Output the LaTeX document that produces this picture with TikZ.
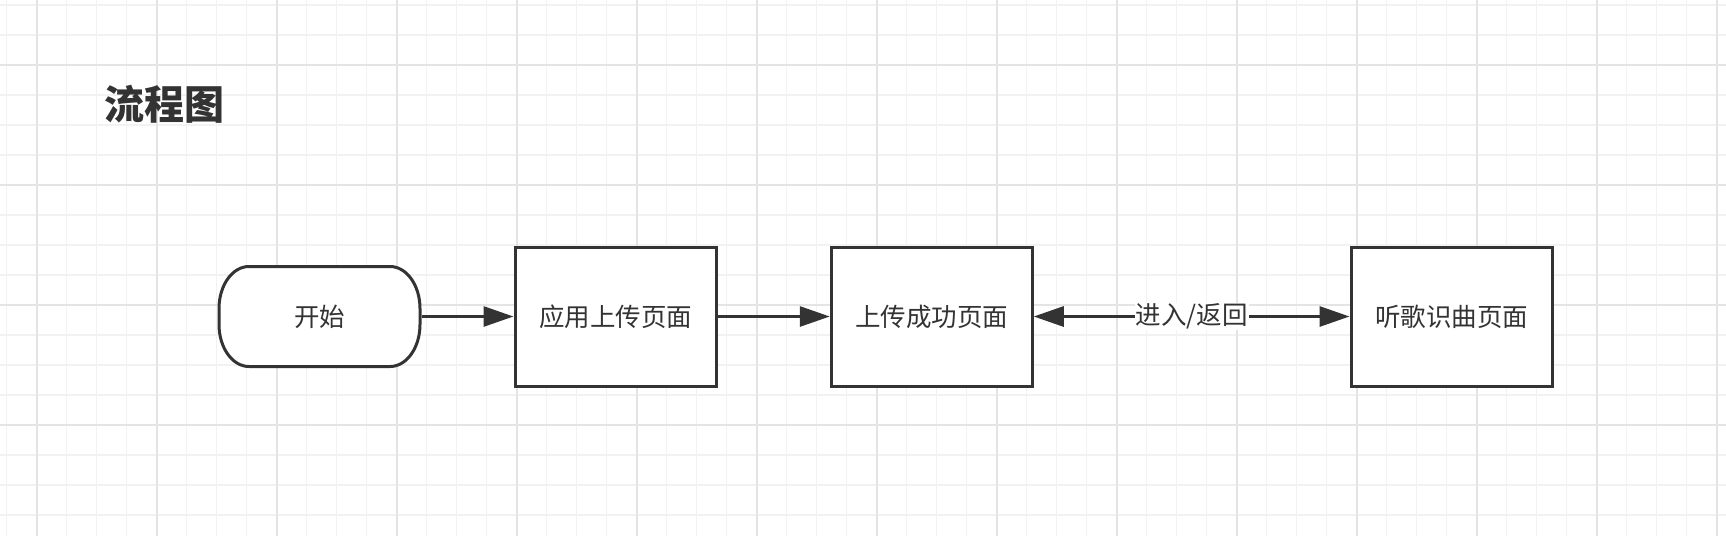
\documentclass[tikz,border=0pt]{standalone}
\usepackage{fontspec}
\newfontfamily\cjk{Noto Sans CJK SC}
\usetikzlibrary{arrows.meta}
\definecolor{ink}{HTML}{333333}
\definecolor{gminor}{HTML}{F2F2F2}
\definecolor{gmajor}{HTML}{E4E4E4}
\begin{document}
\begin{tikzpicture}[x=1pt,y=-1pt,
  box/.style={draw=ink, line width=3pt, fill=white, minimum width=201pt, minimum height=139pt, inner sep=0pt, font=\cjk\fontsize{25.5}{30}\selectfont, text=ink},
  term/.style={inner sep=0pt, outer sep=0pt, minimum width=201pt, minimum height=100pt, font=\cjk\fontsize{25.5}{30}\selectfont, text=ink},
  termline/.style={draw=ink, line width=3pt, fill=white},
  conn/.style={draw=ink, line width=3pt, -{Triangle[length=30pt,width=20pt]}},
  biconn/.style={draw=ink, line width=3pt, {Triangle[length=30pt,width=20pt]}-{Triangle[length=30pt,width=20pt]}},
  lbl/.style={fill=white, inner sep=1pt, text=ink, font=\cjk\fontsize{25.5}{30}\selectfont},
  gridminor/.style={draw=gminor, line width=1.6pt},
  gridmajor/.style={draw=gmajor, line width=2.2pt}]
\useasboundingbox (0,0) rectangle (1726,536);
\fill[white] (0,0) rectangle (1726,536);
% grid
\foreach \i in {0,...,57} {\draw[gridminor] ({6.667+30*\i},0) -- ++(0,536);}
\foreach \j in {0,...,17} {\draw[gridminor] (0,{5+30*\j}) -- ++(1726,0);}
\foreach \k in {0,...,14} {\draw[gridmajor] ({36.667+120*\k},0) -- ++(0,536);}
\foreach \k in {0,...,3} {\draw[gridmajor] (0,{65+120*\k}) -- ++(1726,0);}
% title
\node[text=ink, font=\cjk\bfseries\fontsize{40}{45}\selectfont] (title) at (164,104.5) {流程图};
% start terminator (outline drawn with elliptic corners)
\node[term] (startbg) at (319.5,316.5) {};
\draw[termline] ([xshift=30pt]startbg.north west) -- ([xshift=-30pt]startbg.north east)
  .. controls ([xshift=-13.4pt]startbg.north east) and ([yshift=-18.8pt]startbg.north east) .. ([yshift=-42pt]startbg.north east)
  -- ([yshift=42pt]startbg.south east)
  .. controls ([yshift=18.8pt]startbg.south east) and ([xshift=-13.4pt]startbg.south east) .. ([xshift=-30pt]startbg.south east)
  -- ([xshift=30pt]startbg.south west)
  .. controls ([xshift=13.4pt]startbg.south west) and ([yshift=18.8pt]startbg.south west) .. ([yshift=42pt]startbg.south west)
  -- ([yshift=-42pt]startbg.north west)
  .. controls ([yshift=-18.8pt]startbg.north west) and ([xshift=13.4pt]startbg.north west) .. ([xshift=30pt]startbg.north west) -- cycle;
\node[term] (start) at (319.5,316.5) {开始};
% boxes
\node[box] (upload) at (615.5,316.5) {应用上传页面};
\node[box] (success) at (931.75,316.5) {上传成功页面};
\node[box] (listen) at (1451.5,316.5) {听歌识曲页面};
% connectors
\draw[conn] ([xshift=1.5pt]start.east) -- (upload);
\draw[conn] (upload) -- (success);
\draw[biconn] (success) -- node[lbl] (lab) {进入/返回} (listen);
\end{tikzpicture}
\end{document}
